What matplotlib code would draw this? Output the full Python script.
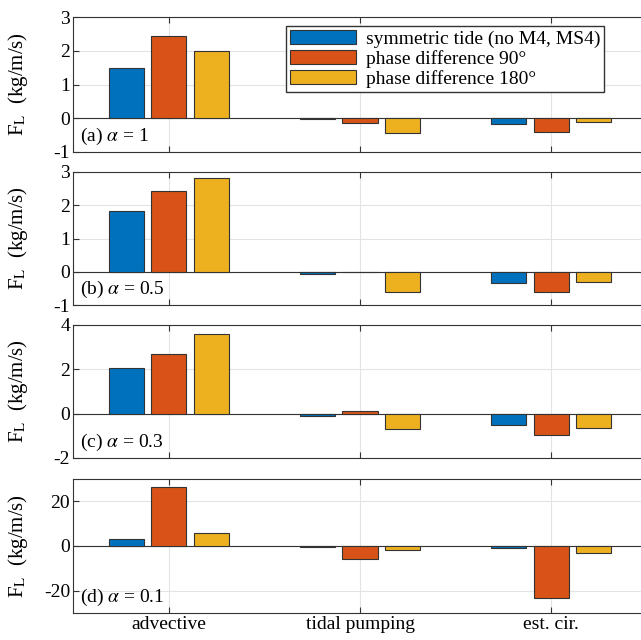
import numpy as np
import matplotlib
matplotlib.use("Agg")
import matplotlib.pyplot as plt

plt.rcParams['font.family'] = ['Liberation Serif', 'DejaVu Serif']
plt.rcParams['mathtext.fontset'] = 'stix'
plt.rcParams['axes.unicode_minus'] = False

categories = ["advective", "tidal pumping", "est. cir."]
series = ["symmetric tide (no M4, MS4)", "phase difference 90°", "phase difference 180°"]
colors = ["#0072BD", "#D95319", "#EDB120"]

vals_a = [[1.5, -0.02, -0.17], [2.45, -0.15, -0.4], [2.0, -0.45, -0.1]]
vals_b = [[1.82, -0.08, -0.35], [2.42, -0.02, -0.6], [2.82, -0.6, -0.3]]
vals_c = [[2.05, -0.1, -0.5], [2.7, 0.1, -0.95], [3.6, -0.7, -0.65]]
vals_d = [[3.0, -0.3, -1.0], [26.5, -6.0, -23.5], [6.0, -2.0, -3.0]]

panels = [
    (vals_a, r"(a) $\alpha$ = 1", (-1, 3), [-1, 0, 1, 2, 3]),
    (vals_b, r"(b) $\alpha$ = 0.5", (-1, 3), [-1, 0, 1, 2, 3]),
    (vals_c, r"(c) $\alpha$ = 0.3", (-2, 4), [-2, 0, 2, 4]),
    (vals_d, r"(d) $\alpha$ = 0.1", (-30, 30), [-20, 0, 20]),
]

fig = plt.figure(figsize=(6.41, 6.40), dpi=100)
W, H = 641, 640
boxes = [(17, 152), (172, 305), (325, 458), (479, 613)]
x = np.arange(1, 4)
for i, ((vals, label, ylim, yt), (top, bot)) in enumerate(zip(panels, boxes)):
    ax = fig.add_axes([73 / W, 1 - bot / H, 574 / W, (bot - top) / H])
    for j in range(3):
        ax.bar(x + (j - 1) * 0.222, vals[j], width=0.183, color=colors[j],
               edgecolor="#333333", linewidth=0.8, label=series[j], zorder=3)
    ax.axhline(0, color="#333333", linewidth=0.8, zorder=2)
    ax.set_xlim(0.5, 3.5)
    ax.set_ylim(*ylim)
    ax.set_yticks(yt)
    ax.set_xticks(x)
    ax.grid(color="#e3e3e3", linewidth=0.8, zorder=0)
    for s in ax.spines.values():
        s.set_color("#333333")
    ax.tick_params(direction="in", labelsize=14, top=True, right=True, length=4,
                   color="#333333", pad=2)
    if i < 3:
        ax.set_xticklabels([])
    else:
        ax.set_xticklabels(categories)
    ax.set_ylabel(r"F$_\mathrm{L}$  (kg/m/s)", fontsize=15)
    ax.yaxis.set_label_coords(-0.075, 0.5)
    ax.text(0.012, 0.04, label, transform=ax.transAxes, fontsize=14, va="bottom")
    if i == 0:
        ax.legend(loc="upper right", bbox_to_anchor=(531 / 574, 0.93), fontsize=14,
                  frameon=True, fancybox=False, edgecolor="#333333", framealpha=1,
                  handlelength=3.4, borderaxespad=0.0, labelspacing=0.1,
                  borderpad=0.2, handletextpad=0.5)

fig.savefig("out.png", dpi=100)
